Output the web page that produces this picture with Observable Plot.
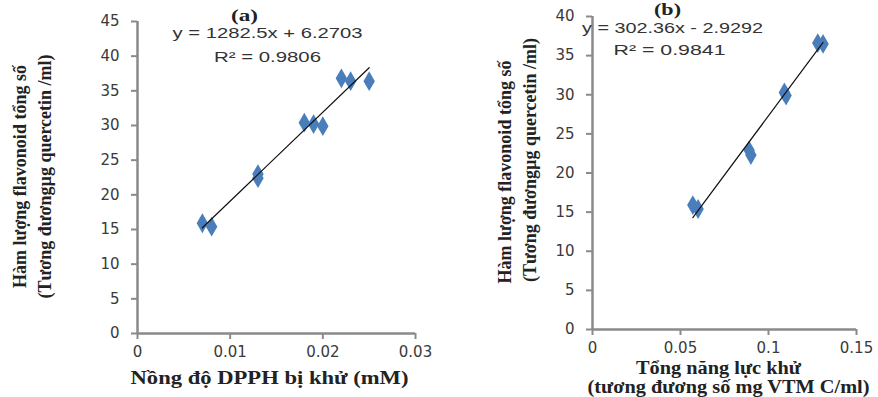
<!DOCTYPE html>
<html>
<head>
<meta charset="utf-8">
<script src="https://cdn.jsdelivr.net/npm/d3@7"></script>
<script src="https://cdn.jsdelivr.net/npm/@observablehq/plot@0.6"></script>
<style>
  html, body { margin: 0; padding: 0; background: #fff; }
  #wrap { position: relative; width: 878px; height: 397px; overflow: hidden; }
  #wrap svg { position: absolute; top: 0; overflow: visible; }
</style>
</head>
<body>
<div id="wrap"></div>
<script>
// ---- data ----
const panelTitles = ["(a)", "(b)"];
const dpphX = [0.007, 0.008, 0.013, 0.013, 0.018, 0.019, 0.020, 0.022, 0.023, 0.025];
const flavA = [15.9, 15.4, 23.0, 22.4, 30.4, 30.2, 29.9, 36.8, 36.4, 36.4];
const reduceX = [0.057, 0.060, 0.089, 0.090, 0.109, 0.110, 0.128, 0.131];
const flavB = [15.9, 15.4, 22.9, 22.3, 30.3, 29.9, 36.6, 36.5];
const fitSlopes = [1282.5, 302.36];
const fitIntercepts = [6.2703, -2.9292];
const r2Values = [0.9806, 0.9841];
const xTicksA = [0, 0.01, 0.02, 0.03];
const yTicksA = [0, 5, 10, 15, 20, 25, 30, 35, 40, 45];
const xTicksB = [0, 0.05, 0.1, 0.15];
const yTicksB = [0, 5, 10, 15, 20, 25, 30, 35, 40];
const yLabelLines = ["Hàm lượng flavonoid tổng số", "(Tương đươngµg quercetin /ml)"];
const xLabelA = ["Nồng độ DPPH bị khử (mM)"];
const xLabelB = ["Tổng năng lực khử", "(tương đương số mg VTM C/ml)"];

const AXIS = "#8a8a8a", TXT = "#3a3a3a", BLUE = "#4a7ebb";
const SERIF = "Liberation Serif", SANS = "Liberation Sans";

function eqText(i) {
  const b = fitIntercepts[i];
  return `y = ${fitSlopes[i]}x ${b < 0 ? "-" : "+"} ${Math.abs(b)}`;
}
function fitLine(xs, i) {
  const ext = d3.extent(xs);
  return ext.map(x => ({x, y: fitIntercepts[i] + fitSlopes[i] * x}));
}

function panel(cfg) {
  const pts = cfg.xs.map((x, k) => ({x, y: cfg.ys[k]}));
  const lab = (text, o) => Plot.text([text], {
    frameAnchor: o.anchor, dx: o.dx, dy: o.dy, rotate: o.rotate || 0,
    textAnchor: "middle", lineAnchor: "middle",
    fontFamily: o.family || SERIF, fontWeight: o.weight || "bold",
    fontSize: o.size || 18, fill: o.fill || "#222"
  });
  const marks = [
    Plot.ruleX([0], {stroke: AXIS, strokeWidth: 2.5}),
    Plot.ruleY([0], {stroke: AXIS, strokeWidth: 2.5}),
    Plot.axisX({ticks: cfg.xTicks, tickFormat: d => String(d), tickSize: 6, tickPadding: 7,
      stroke: AXIS, strokeWidth: 2, fill: TXT, label: null, fontSize: 15}),
    Plot.axisY({ticks: cfg.yTicks, tickFormat: d => String(d), tickSize: 6, tickPadding: 12,
      stroke: AXIS, strokeWidth: 2, fill: TXT, label: null, fontSize: 15}),
    Plot.dot(pts, {x: "x", y: "y", symbol: "diamond", r: 6, fill: BLUE, stroke: "none"}),
    Plot.line(fitLine(cfg.xs, cfg.i), {x: "x", y: "y", stroke: "#111", strokeWidth: 1.2}),
    lab(yLabelLines[0], {anchor: "left", dx: cfg.yl1[0], dy: cfg.yl1[1], rotate: -90}),
    lab(yLabelLines[1], {anchor: "left", dx: cfg.yl2[0], dy: cfg.yl2[1], rotate: -90}),
    ...cfg.xLabel.map((t, k) => lab(t, {anchor: "bottom", dx: cfg.xl[k][0], dy: cfg.xl[k][1]})),
    lab(panelTitles[cfg.i], {anchor: "top-left", dx: cfg.title[0], dy: cfg.title[1], size: 17}),
    lab(eqText(cfg.i), {anchor: "top-left", dx: cfg.eq[0], dy: cfg.eq[1], family: SANS, weight: "normal", size: 15, fill: "#333"}),
    lab(`R² = ${r2Values[cfg.i]}`, {anchor: "top-left", dx: cfg.r2[0], dy: cfg.r2[1], family: SANS, weight: "normal", size: 15, fill: "#333"})
  ];
  const svg = Plot.plot({
    width: cfg.width, height: 397,
    marginLeft: cfg.m[0], marginRight: cfg.m[1], marginTop: cfg.m[2], marginBottom: cfg.m[3],
    x: {domain: cfg.xDomain, axis: null},
    y: {domain: cfg.yDomain, axis: null},
    style: {fontFamily: "DejaVu Sans", fontSize: "15px", background: "transparent", overflow: "visible"},
    marks
  });
  svg.style.left = cfg.left + "px";
  // stretch horizontal texts to the widths seen in the reference
  d3.select(svg).selectAll("text").each(function() {
    const w = cfg.lengths[this.textContent];
    if (w) { this.setAttribute("textLength", w); this.setAttribute("lengthAdjust", "spacingAndGlyphs"); }
  });
  document.getElementById("wrap").appendChild(svg);
}

panel({
  i: 0, left: 0, width: 440, m: [137, 25, 21, 64],
  xs: dpphX, ys: flavA, xTicks: xTicksA, yTicks: yTicksA,
  xDomain: [0, 0.03], yDomain: [0, 45],
  yl1: [-117, -1], yl2: [-92, -1],
  xLabel: xLabelA, xl: [[-7, 45]],
  title: [107, -6], eq: [130, 12], r2: [130, 36],
  lengths: {[xLabelA[0]]: 278, [eqText(0)]: 190, [`R² = ${r2Values[0]}`]: 107, [panelTitles[0]]: 27}
});
panel({
  i: 1, left: 440, width: 438, m: [152, 22, 16, 68],
  xs: reduceX, ys: flavB, xTicks: xTicksB, yTicks: yTicksB,
  xDomain: [0, 0.15], yDomain: [0, 40],
  yl1: [-87, -1], yl2: [-62, -13],
  xLabel: xLabelB, xl: [[-6, 39], [4, 58]],
  title: [75, -7], eq: [80, 12], r2: [77, 34],
  lengths: {[xLabelB[0]]: 165, [xLabelB[1]]: 282, [eqText(1)]: 181, [`R² = ${r2Values[1]}`]: 112, [panelTitles[1]]: 27}
});
</script>
</body>
</html>
